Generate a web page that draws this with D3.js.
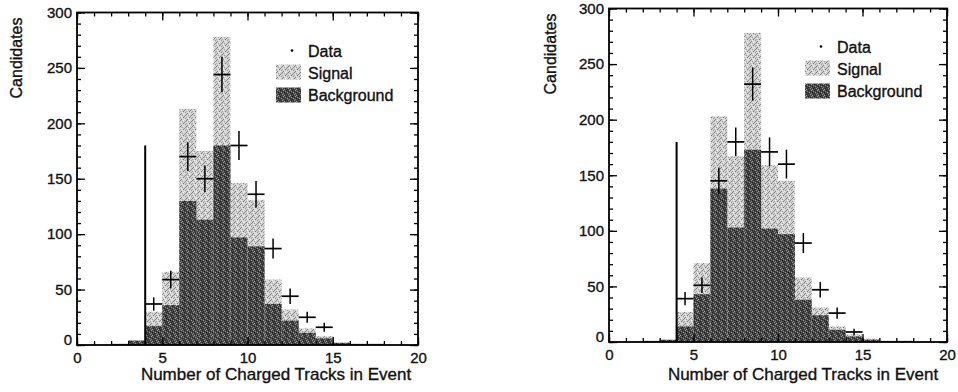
<!DOCTYPE html>
<html>
<head>
<meta charset="utf-8">
<script src="https://cdn.jsdelivr.net/npm/d3@7"></script>
<style>
  body { margin: 0; background: #fff; }
  svg text { font-family: "Liberation Sans", Arial, sans-serif; fill: #111; stroke: #111; stroke-width: 0.35px; }
</style>
</head>
<body>
<div id="chart"></div>
<script>
// bins are 1 track wide, lower edges 0..19
const binStarts = [0, 1, 2, 3, 4, 5, 6, 7, 8, 9, 10, 11, 12, 13, 14, 15, 16, 17, 18, 19];

// left panel: signal+background (light) and background (dark)
const leftTotal      = [0, 0, 1, 4, 30, 66, 213, 175, 278, 146, 131, 59, 32, 15, 8, 2, 1, 1, 0, 0];
const leftBackground = [0, 0, 1, 4, 17, 36, 130, 113, 180, 97, 89, 37, 22, 11, 6, 2, 1, 1, 0, 0];

// right panel
const rightTotal      = [0, 0, 1, 2, 27, 71, 203, 167, 278, 159, 145, 58, 31, 14, 7, 3, 1, 1, 0, 0];
const rightBackground = [0, 0, 1, 2, 14, 43, 138, 103, 173, 102, 97, 38, 24, 11, 5, 2, 1, 1, 0, 0];

// data points with errors
const dataCenters = [4.5, 5.5, 6.5, 7.5, 8.5, 9.5, 10.5, 11.5, 12.5, 13.5, 14.5];
const leftData  = [37, 59, 170, 150, 244, 180, 136, 87, 44, 25, 16];
const leftErr   = [6, 8, 13, 12, 16, 13, 12, 9, 7, 5, 4];
const rightData = [39, 51, 145, 180, 232, 171, 160, 89, 47, 26, 9];
const rightErr  = [6, 7, 12, 13, 15, 13, 13, 9, 7, 5, 3];

// vertical cut line
const cutPosition = 4;
const cutValue = 180;

const xMinorTicks = [0, 1, 2, 3, 4, 5, 6, 7, 8, 9, 10, 11, 12, 13, 14, 15, 16, 17, 18, 19, 20];
const xMajorTicks = [0, 5, 10, 15, 20];
const yMinorTicks = [0, 10, 20, 30, 40, 50, 60, 70, 80, 90, 100, 110, 120, 130, 140, 150,
                     160, 170, 180, 190, 200, 210, 220, 230, 240, 250, 260, 270, 280, 290, 300];
const yMajorTicks = [0, 50, 100, 150, 200, 250, 300];

const legendLabels = ['Data', 'Signal', 'Background'];
const xTitle = 'Number of Charged Tracks in Event';
const yTitle = 'Candidates';

const svg = d3.select('#chart').append('svg')
  .attr('width', 958)
  .attr('height', 392);

svg.append('rect').attr('width', 958).attr('height', 392).attr('fill', '#fff');

// grainy fills to look like the scanned halftone
const defs = svg.append('defs');
function makePattern(id, base, pixels) {
  const p = defs.append('pattern')
    .attr('id', id)
    .attr('patternUnits', 'userSpaceOnUse')
    .attr('width', 6)
    .attr('height', 6);
  p.append('rect').attr('width', 6).attr('height', 6).attr('fill', base);
  pixels.forEach(px => {
    p.append('rect').attr('x', px[0]).attr('y', px[1]).attr('width', 1).attr('height', 1).attr('fill', px[2]);
  });
}
makePattern('lightFill', '#d2d2d2', [
  [0, 0, '#7a7a7a'], [3, 0, '#f2f2f2'], [2, 1, '#9a9a9a'], [5, 1, '#888'],
  [1, 2, '#f0f0f0'], [4, 2, '#8c8c8c'], [0, 3, '#a4a4a4'], [3, 3, '#707070'],
  [2, 4, '#eeeeee'], [5, 4, '#9a9a9a'], [1, 5, '#808080'], [4, 5, '#e8e8e8']
]);
makePattern('darkFill', '#474747', [
  [1, 0, '#a0a0a0'], [4, 0, '#1a1a1a'], [0, 1, '#222'], [3, 1, '#8a8a8a'],
  [2, 2, '#151515'], [5, 2, '#9c9c9c'], [1, 3, '#7e7e7e'], [4, 3, '#202020'],
  [0, 4, '#909090'], [3, 4, '#1c1c1c'], [2, 5, '#a4a4a4'], [5, 5, '#262626']
]);

function drawPanel(box, total, background, values, errors) {
  const x = d3.scaleLinear().domain([0, 20]).range([box.left, box.right]);
  const y = d3.scaleLinear().domain([0, 300]).range([box.bottom, box.top]);
  const g = svg.append('g');

  const bars = (vals, fill) => {
    g.append('g').selectAll('rect')
      .data(binStarts.filter((b, i) => vals[i] > 0))
      .enter().append('rect')
      .attr('x', b => x(b))
      .attr('width', b => x(b + 1) - x(b))
      .attr('y', b => y(vals[binStarts.indexOf(b)]))
      .attr('height', b => y(0) - y(vals[binStarts.indexOf(b)]))
      .attr('fill', fill);
  };
  bars(total, 'url(#lightFill)');
  bars(background, 'url(#darkFill)');

  // cut line
  g.append('line')
    .attr('x1', x(cutPosition)).attr('x2', x(cutPosition))
    .attr('y1', y(0)).attr('y2', y(cutValue))
    .attr('stroke', '#000').attr('stroke-width', 2);

  // data crosses
  const pts = g.append('g').selectAll('g')
    .data(dataCenters.map((c, i) => ({ c, v: values[i], e: errors[i] })))
    .enter().append('g');
  pts.append('line')
    .attr('x1', d => x(d.c - 0.5)).attr('x2', d => x(d.c + 0.5))
    .attr('y1', d => y(d.v)).attr('y2', d => y(d.v))
    .attr('stroke', '#000').attr('stroke-width', 1.7);
  pts.append('line')
    .attr('x1', d => x(d.c)).attr('x2', d => x(d.c))
    .attr('y1', d => y(d.v - d.e)).attr('y2', d => y(d.v + d.e))
    .attr('stroke', '#000').attr('stroke-width', 1.5);

  // ticks on all four sides, pointing inward
  const axisStyle = sel => {
    sel.select('.domain').remove();
    sel.selectAll('.tick line').attr('stroke', '#000').attr('stroke-width', 1.3);
    sel.selectAll('text').style('font-size', '15px').attr('fill', '#111');
  };
  g.append('g').attr('transform', `translate(0,${box.bottom})`)
    .call(d3.axisBottom(x).tickValues(xMinorTicks).tickSize(-4).tickFormat(''))
    .call(axisStyle);
  g.append('g').attr('transform', `translate(0,${box.bottom})`)
    .call(d3.axisBottom(x).tickValues(xMajorTicks).tickSize(-8).tickPadding(7).tickFormat(d3.format('d')))
    .call(axisStyle);
  g.append('g').attr('transform', `translate(0,${box.top})`)
    .call(d3.axisTop(x).tickValues(xMinorTicks).tickSize(-4).tickFormat(''))
    .call(axisStyle);
  g.append('g').attr('transform', `translate(0,${box.top})`)
    .call(d3.axisTop(x).tickValues(xMajorTicks).tickSize(-8).tickFormat(''))
    .call(axisStyle);
  g.append('g').attr('transform', `translate(${box.left},0)`)
    .call(d3.axisLeft(y).tickValues(yMinorTicks).tickSize(-4).tickFormat(''))
    .call(axisStyle);
  const yAxis = g.append('g').attr('transform', `translate(${box.left},0)`)
    .call(d3.axisLeft(y).tickValues(yMajorTicks).tickSize(-8).tickPadding(5).tickFormat(d3.format('d')))
    .call(axisStyle);
  yAxis.selectAll('.tick text').filter(d => d === 0).attr('transform', 'translate(0,-5)');
  g.append('g').attr('transform', `translate(${box.right},0)`)
    .call(d3.axisRight(y).tickValues(yMinorTicks).tickSize(-4).tickFormat(''))
    .call(axisStyle);
  g.append('g').attr('transform', `translate(${box.right},0)`)
    .call(d3.axisRight(y).tickValues(yMajorTicks).tickSize(-8).tickFormat(''))
    .call(axisStyle);

  // frame
  g.append('rect')
    .attr('x', box.left).attr('y', box.top)
    .attr('width', box.right - box.left).attr('height', box.bottom - box.top)
    .attr('fill', 'none').attr('stroke', '#000').attr('stroke-width', 1.8);

  // titles
  g.append('text')
    .attr('x', box.titleX).attr('y', 380)
    .attr('text-anchor', 'middle')
    .style('font-size', '17px')
    .text(xTitle);
  g.append('text')
    .attr('transform', `translate(${box.yTitleX},${box.top + 5}) rotate(-90)`)
    .attr('text-anchor', 'end')
    .style('font-size', '16px')
    .text(yTitle);

  // legend
  const lx = box.right - 110;
  g.append('circle').attr('cx', box.right - 126).attr('cy', box.top + 38).attr('r', 1.3).attr('fill', '#000');
  g.append('rect').attr('x', box.right - 142).attr('y', box.top + 52).attr('width', 25).attr('height', 15).attr('fill', 'url(#lightFill)');
  g.append('rect').attr('x', box.right - 142).attr('y', box.top + 75).attr('width', 25).attr('height', 15).attr('fill', 'url(#darkFill)');
  legendLabels.forEach((t, i) => {
    g.append('text')
      .attr('x', lx).attr('y', box.top + 44 + i * 22)
      .style('font-size', '16px')
      .text(t);
  });
}

drawPanel({ left: 77, right: 418, top: 12.5, bottom: 345, titleX: 276, yTitleX: 22 },
  leftTotal, leftBackground, leftData, leftErr);
drawPanel({ left: 609, right: 947, top: 8.5, bottom: 342, titleX: 803, yTitleX: 556 },
  rightTotal, rightBackground, rightData, rightErr);
</script>
</body>
</html>
